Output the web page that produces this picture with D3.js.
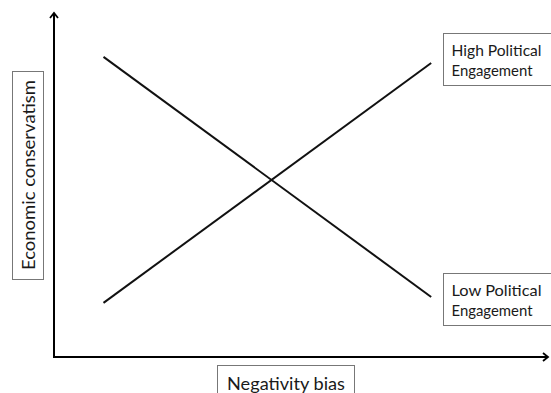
<!DOCTYPE html>
<html><head><meta charset="utf-8">
<script src="https://cdn.jsdelivr.net/npm/d3@7"></script>
<style>html,body{margin:0;padding:0;background:#fff}svg{display:block}</style>
</head><body>
<script>
// Data
const negativityBias = [1, 7.62];           // x positions (low -> high negativity bias)
const highEngagement = [15.7, 85.2];        // economic conservatism, high political engagement
const lowEngagement = [87.0, 17.4];         // economic conservatism, low political engagement
const seriesLabels = [["High Political", "Engagement"], ["Low Political", "Engagement"]];
const xAxisLabel = "Negativity bias";
const yAxisLabel = "Economic conservatism";

const W = 551, H = 393;
const svg = d3.select("body").append("svg").attr("width", W).attr("height", H);
const x = d3.scaleLinear().domain([0, 10]).range([54, 549]);
const y = d3.scaleLinear().domain([0, 100]).range([357, 12]);
const font = "Lato, 'Open Sans', sans-serif";

// axes
const ax = svg.append("g").attr("stroke", "#000").attr("stroke-width", 2).attr("fill", "none");
ax.append("path").attr("d", `M${x(0)},${y(100)+1}V${y(0)}H${x(10)-1}`).attr("stroke-linejoin","miter");
ax.append("path").attr("d", `M${x(0)-4},${y(100)+6}L${x(0)},${y(100)+1}L${x(0)+4},${y(100)+6}`).attr("stroke-width",1.8);
ax.append("path").attr("d", `M${x(10)-6},${y(0)-4}L${x(10)-1},${y(0)}L${x(10)-6},${y(0)+4}`).attr("stroke-width",1.8);

// lines
const line = d3.line().x((d,i)=>x(negativityBias[i])).y(d=>y(d));
[highEngagement, lowEngagement].forEach(s=>{
  svg.append("path").datum(s).attr("d", line).attr("fill","none").attr("stroke","#111").attr("stroke-width",2);
});

function fitText(sel, len) {
  const w = sel.node().getComputedTextLength();
  if (Math.abs(w - len) > 1) sel.attr("textLength", len).attr("lengthAdjust", "spacingAndGlyphs");
}

// series labels
function labelBox(lines, bx, by, bw, bh, baseline0, widths) {
  const g = svg.append("g");
  g.append("rect").attr("x", bx).attr("y", by).attr("width", bw).attr("height", bh)
    .attr("fill","#fff").attr("stroke","#777").attr("stroke-width",1);
  lines.forEach((t,i)=>{
    const tx = g.append("text").attr("x", bx+8).attr("y", baseline0 + i*20.5).text(t)
      .attr("font-family", font).attr("font-size", 16).attr("fill","#1a1a1a");
    fitText(tx, widths[i]);
  });
}
labelBox(seriesLabels[0], 443.5, 33.5, 110, 52, 55.5, [90, 81]);
labelBox(seriesLabels[1], 443.5, 273.5, 110, 52, 295.5, [90, 81]);

// y label
svg.append("rect").attr("x", 12.5).attr("y", 71.5).attr("width", 31).attr("height", 208)
  .attr("fill","#fff").attr("stroke","#777");
const yl = svg.append("text").attr("transform", `translate(34.5,175) rotate(-90)`).attr("text-anchor","middle")
  .attr("font-family", font).attr("font-size", 18).attr("fill","#1a1a1a").text(yAxisLabel);
fitText(yl, 190);

// x label
svg.append("rect").attr("x", 217.5).attr("y", 365.5).attr("width", 137).attr("height", 40)
  .attr("fill","#fff").attr("stroke","#777");
const xl = svg.append("text").attr("x", 286).attr("y", 389.5).attr("text-anchor","middle")
  .attr("font-family", font).attr("font-size", 18).attr("fill","#1a1a1a").text(xAxisLabel);
fitText(xl, 118);
</script>
</body></html>
